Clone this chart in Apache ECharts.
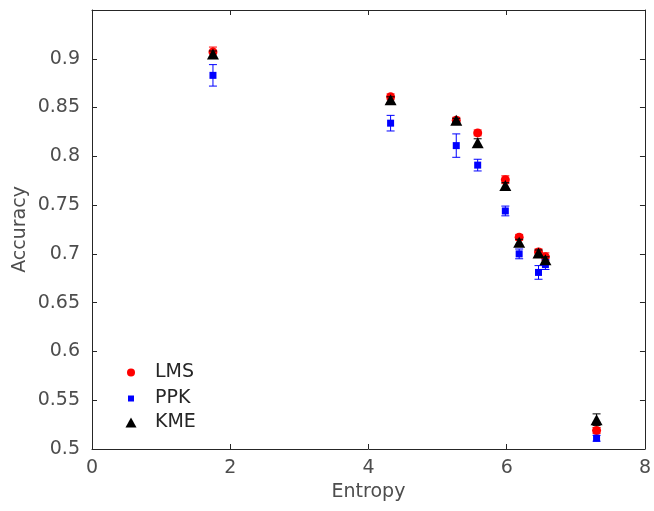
<!DOCTYPE html>
<html>
<head>
<meta charset="utf-8">
<script src="https://cdn.jsdelivr.net/npm/echarts@6/dist/echarts.min.js"></script>
<style>
  html, body { margin: 0; padding: 0; background: #fff; }
  #chart { width: 654px; height: 511px; }
</style>
</head>
<body>
<div id="chart"></div>
<script>
// values
const entropy = [1.75, 4.32, 5.27, 5.58, 5.98, 6.18, 6.46, 6.56, 7.30]
const lmsMean = [0.907, 0.861, 0.837, 0.824, 0.776, 0.717, 0.702, 0.697, 0.519]
const lmsErr  = [0.005, 0.003, 0.003, 0.003, 0.004, 0.003, 0.003, 0.004, 0.003]
const ppkMean = [0.883, 0.834, 0.811, 0.791, 0.744, 0.700, 0.681, 0.689, 0.511]
const ppkErr  = [0.011, 0.008, 0.012, 0.006, 0.005, 0.005, 0.007, 0.005, 0.003]
const kmeMean = [0.905, 0.858, 0.837, 0.814, 0.770, 0.712, 0.701, 0.694, 0.530]
const kmeErr  = [0.003, 0.003, 0.002, 0.004, 0.003, 0.003, 0.003, 0.003, 0.006]

const axisColor = '#262626'
const textColor = '#4d4d4d'
const fontFamily = 'DejaVu Sans, sans-serif'
const fontSize = 19

function points(means) {
    return entropy.map((x, i) => [x, means[i]])
}

function errRows(means, errs) {
    return entropy.map((x, i) => [x, means[i] - errs[i], means[i] + errs[i]])
}

// vertical error bar with caps
function errorBar(color) {
    return function (params, api) {
        const lo = api.coord([api.value(0), api.value(1)])
        const hi = api.coord([api.value(0), api.value(2)])
        const cap = 4
        const style = { stroke: color, lineWidth: 1 }
        return {
            type: 'group',
            children: [
                { type: 'line', shape: { x1: lo[0], y1: lo[1], x2: hi[0], y2: hi[1] }, style: style },
                { type: 'line', shape: { x1: lo[0] - cap, y1: lo[1], x2: lo[0] + cap, y2: lo[1] }, style: style },
                { type: 'line', shape: { x1: hi[0] - cap, y1: hi[1], x2: hi[0] + cap, y2: hi[1] }, style: style }
            ]
        }
    }
}

// one legend per entry so every icon keeps its own size
function legendItem(name, icon, color, w, h, top) {
    return {
        data: [{ name: name, icon: icon, itemStyle: { color: color } }],
        left: 131 - w / 2,
        top: top,
        padding: 0,
        itemWidth: w,
        itemHeight: h,
        textStyle: {
            fontSize: fontSize, color: '#262626', fontFamily: fontFamily,
            padding: [0, 0, 0, 19 - w / 2]
        }
    }
}

const myChart = echarts.init(document.getElementById('chart'))

const tickStyle = { show: true, inside: true, length: 5, lineStyle: { color: axisColor } }
const lineStyle = { show: true, onZero: false, lineStyle: { color: axisColor, width: 1 } }

let option = {
    backgroundColor: '#ffffff',
    animation: false,
    grid: { left: 92, right: 5, top: 10, bottom: 62 },
    legend: [
        legendItem('LMS', 'circle', '#ff0000', 8, 8, 363),
        legendItem('PPK', 'rect', '#0000ff', 6, 6, 389),
        legendItem('KME', 'triangle', '#000000', 11, 10, 413)
    ],
    xAxis: [
        {
            type: 'value', min: 0, max: 8, interval: 2,
            name: 'Entropy', nameLocation: 'middle', nameGap: 33,
            nameTextStyle: { fontSize: fontSize, color: textColor, fontFamily: fontFamily },
            axisLine: lineStyle, axisTick: tickStyle,
            axisLabel: { fontSize: fontSize, color: textColor, fontFamily: fontFamily, margin: 10 },
            splitLine: { show: false }
        },
        {
            type: 'value', min: 0, max: 8, interval: 2, position: 'top',
            axisLine: lineStyle, axisTick: tickStyle,
            axisLabel: { show: false }, splitLine: { show: false }
        }
    ],
    yAxis: [
        {
            type: 'value', min: 0.5, max: 0.95, interval: 0.05,
            name: 'Accuracy', nameLocation: 'middle', nameGap: 62, nameMoveOverlap: false,
            nameTextStyle: { fontSize: fontSize, color: textColor, fontFamily: fontFamily },
            axisLine: lineStyle, axisTick: tickStyle,
            axisLabel: {
                fontSize: fontSize, color: textColor, fontFamily: fontFamily, margin: 12,
                formatter: function (val) {
                    if (val > 0.92) return ''
                    return parseFloat(val.toFixed(2)).toString()
                }
            },
            splitLine: { show: false }
        },
        {
            type: 'value', min: 0.5, max: 0.95, interval: 0.05, position: 'right',
            axisLine: lineStyle, axisTick: tickStyle,
            axisLabel: { show: false }, splitLine: { show: false }
        }
    ],
    series: [
        {
            type: 'custom', renderItem: errorBar('#ff0000'),
            data: errRows(lmsMean, lmsErr), z: 2, silent: true
        },
        {
            name: 'LMS', type: 'scatter', data: points(lmsMean),
            symbol: 'circle', symbolSize: 9, itemStyle: { color: '#ff0000', opacity: 1 }, z: 3
        },
        {
            type: 'custom', renderItem: errorBar('#0000ff'),
            data: errRows(ppkMean, ppkErr), z: 4, silent: true
        },
        {
            name: 'PPK', type: 'scatter', data: points(ppkMean),
            symbol: 'rect', symbolSize: 7, itemStyle: { color: '#0000ff', opacity: 1 }, z: 5
        },
        {
            type: 'custom', renderItem: errorBar('#000000'),
            data: errRows(kmeMean, kmeErr), z: 6, silent: true
        },
        {
            name: 'KME', type: 'scatter', data: points(kmeMean),
            symbol: 'triangle', symbolSize: [12, 11], itemStyle: { color: '#000000', opacity: 1 }, z: 7
        }
    ]
}
myChart.setOption(option)
</script>
</body>
</html>
